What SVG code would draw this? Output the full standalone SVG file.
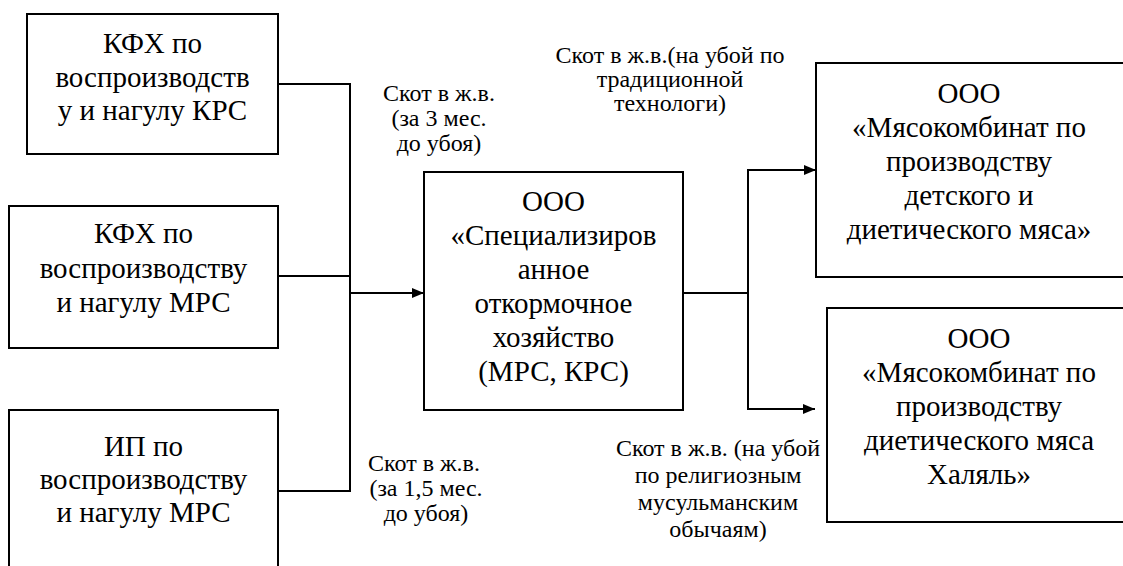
<svg xmlns="http://www.w3.org/2000/svg" width="1123" height="566" viewBox="0 0 1123 566">
<style>
.box{fill:#fff;stroke:#000;stroke-width:2}
.bt{font-family:'Liberation Serif','Times New Roman',serif;font-size:29px;fill:#000;text-anchor:middle}
.lt{font-family:'Liberation Serif','Times New Roman',serif;font-size:24px;fill:#000;text-anchor:middle}
.c{fill:none;stroke:#000;stroke-width:2}
</style>
<defs>
<marker id="ah" viewBox="0 0 12 10" refX="12" refY="5" markerWidth="12" markerHeight="10" markerUnits="userSpaceOnUse" orient="auto">
<path d="M0,0 L12,5 L0,10 Z" fill="#000"/>
</marker>
</defs>
<rect width="1123" height="566" fill="#fff"/>
<g id="connectors">
<polyline class="c" points="278,84 350,84 350,491 278,491"/>
<line class="c" x1="278" y1="276" x2="350" y2="276"/>
<line class="c" x1="350" y1="293" x2="424" y2="293" marker-end="url(#ah)"/>
<polyline class="c" points="683,293 748,293"/>
<polyline class="c" points="748,409 748,170 816,170" marker-end="url(#ah)"/>
<polyline class="c" points="748,300 748,409 815,409" marker-end="url(#ah)"/>
</g>
<g id="node-kfh-krs">
<rect class="box" x="27" y="14" width="251" height="140"/>
<text class="bt" x="152.5" y="53">КФХ по</text>
<text class="bt" x="152.5" y="87">воспроизводств</text>
<text class="bt" x="152.5" y="120">у и нагулу КРС</text>
</g>
<g id="node-kfh-mrs">
<rect class="box" x="9" y="206" width="269" height="142"/>
<text class="bt" x="143.5" y="243">КФХ по</text>
<text class="bt" x="143.5" y="278">воспроизводству</text>
<text class="bt" x="143.5" y="312">и нагулу МРС</text>
</g>
<g id="node-ip-mrs">
<rect class="box" x="9" y="410" width="269" height="170"/>
<text class="bt" x="143.5" y="456">ИП по</text>
<text class="bt" x="143.5" y="489">воспроизводству</text>
<text class="bt" x="143.5" y="522">и нагулу МРС</text>
</g>
<g id="node-fattening">
<rect class="box" x="424" y="172" width="259" height="238"/>
<text class="bt" x="553.5" y="211">ООО</text>
<text class="bt" x="553.5" y="245">«Специализиров</text>
<text class="bt" x="553.5" y="279">анное</text>
<text class="bt" x="553.5" y="313">откормочное</text>
<text class="bt" x="553.5" y="347">хозяйство</text>
<text class="bt" x="553.5" y="381">(МРС, КРС)</text>
</g>
<g id="node-meat-children">
<rect class="box" x="816" y="63" width="320" height="214"/>
<text class="bt" x="969" y="103">ООО</text>
<text class="bt" x="969" y="137">«Мясокомбинат по</text>
<text class="bt" x="969" y="171">производству</text>
<text class="bt" x="969" y="205">детского и</text>
<text class="bt" x="969" y="239">диетического мяса»</text>
</g>
<g id="node-meat-halal">
<rect class="box" x="827" y="308" width="310" height="214"/>
<text class="bt" x="979" y="348">ООО</text>
<text class="bt" x="979" y="382">«Мясокомбинат по</text>
<text class="bt" x="979" y="416">производству</text>
<text class="bt" x="979" y="450">диетического мяса</text>
<text class="bt" x="979" y="484">Халяль»</text>
</g>
<g id="labels">
<text class="lt" x="439" y="101">Скот в ж.в.</text>
<text class="lt" x="439" y="126">(за 3 мес.</text>
<text class="lt" x="439" y="151">до убоя)</text>
<text class="lt" x="670" y="63">Скот в ж.в.(на убой по</text>
<text class="lt" x="670" y="87">традиционной</text>
<text class="lt" x="670" y="111">технологи)</text>
<text class="lt" x="424" y="471">Скот в ж.в.</text>
<text class="lt" x="426" y="496">(за 1,5 мес.</text>
<text class="lt" x="426" y="521">до убоя)</text>
<text class="lt" x="718" y="456">Скот в ж.в. (на убой</text>
<text class="lt" x="718" y="483">по религиозным</text>
<text class="lt" x="718" y="510">мусульманским</text>
<text class="lt" x="718" y="537">обычаям)</text>
</g>
</svg>
